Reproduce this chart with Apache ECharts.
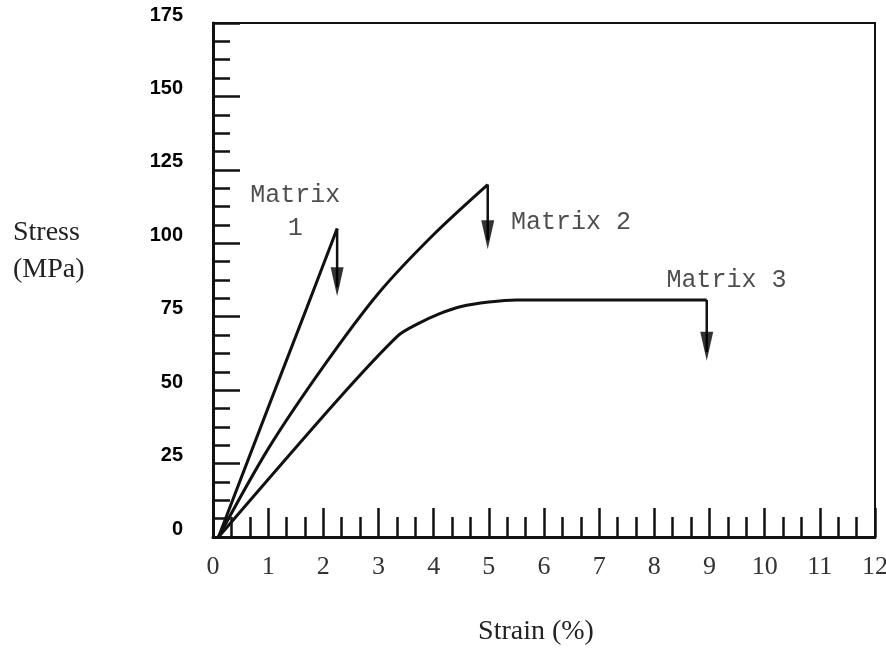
<!DOCTYPE html>
<html>
<head>
<meta charset="utf-8">
<script src="https://cdn.jsdelivr.net/npm/echarts@6/dist/echarts.min.js"></script>
<style>
  html, body { margin: 0; padding: 0; background: #fff; }
  #chart { width: 886px; height: 648px; }
</style>
</head>
<body>
<div id="chart"></div>
<script>
// stress-strain curves, strain in %, stress in MPa
const strain1 = [0.1, 1.04, 1.7, 2.25];
const stress1 = [0, 46, 78, 105];
const strain2 = [0.1, 1.0, 2.0, 3.0, 4.0, 4.98];
const stress2 = [0, 30, 58, 83, 103, 120];
const strain3 = [0.1, 2.25, 3.35, 3.7, 4.1, 4.5, 5.0, 5.5, 8.95];
const stress3 = [0, 46.5, 68.5, 72.5, 76, 78.5, 80, 80.7, 80.7];

// failure arrows (drop after break)
const failX = [2.25, 4.98, 8.95];
const failFrom = [105, 120, 80.7];
const failTo = [82, 98, 60];

// curve annotations
const labelNames = ['Matrix\n1', 'Matrix 2', 'Matrix 3'];
const labelX = [1.49, 6.49, 9.31];
const labelY = [110.8, 107, 87.5];

const pairs = (xs, ys) => xs.map((x, i) => [x, ys[i]]);
const ink = '#111';

const curve = (name, data) => ({
  name: name,
  type: 'line',
  data: data,
  showSymbol: false,
  symbol: 'none',
  smooth: 0.3,
  lineStyle: { color: ink, width: 3 },
  z: 3
});

const series = [
  curve('Matrix 1', pairs(strain1, stress1)),
  curve('Matrix 2', pairs(strain2, stress2)),
  curve('Matrix 3', pairs(strain3, stress3))
];

failX.forEach((x, i) => {
  series.push({
    type: 'line',
    data: [[x, failFrom[i]], [x, failTo[i] + 3]],
    symbol: 'none',
    lineStyle: { color: ink, width: 2.5 },
    z: 3
  });
});

series.push({
  type: 'scatter',
  data: pairs(failX, failTo),
  symbol: 'triangle',
  symbolRotate: 180,
  symbolSize: [13, 29],
  symbolOffset: [0, '-50%'],
  itemStyle: { color: '#000' },
  z: 4
});

series.push({
  type: 'scatter',
  data: labelNames.map((n, i) => ({ name: n, value: [labelX[i], labelY[i]] })),
  symbolSize: 1,
  itemStyle: { color: 'transparent' },
  label: {
    show: true,
    position: 'inside',
    formatter: '{b}',
    fontFamily: 'Liberation Mono',
    fontSize: 25,
    lineHeight: 33,
    color: '#222'
  },
  z: 5
});

const chart = echarts.init(document.getElementById('chart'));
chart.setOption({
  animation: false,
  backgroundColor: '#fff',
  grid: {
    left: 213, right: 11, top: 23, bottom: 111,
    show: true, borderColor: ink, borderWidth: 2,
    containLabel: false, outerBoundsMode: 'none'
  },
  xAxis: {
    type: 'value',
    min: 0, max: 12, interval: 1,
    name: 'Strain (%)',
    nameLocation: 'middle',
    nameGap: 81,
    nameTextStyle: {
      fontFamily: 'Liberation Serif', fontSize: 28, color: '#222',
      padding: [0, 16, 0, 0]
    },
    axisLine: { onZero: false, lineStyle: { color: ink, width: 3 } },
    axisTick: { inside: true, length: 29, lineStyle: { color: ink, width: 2.5 } },
    minorTick: { show: true, splitNumber: 3, length: 20, lineStyle: { color: ink, width: 2.5 } },
    axisLabel: { fontFamily: 'Liberation Serif', fontSize: 26, color: '#333', margin: 17 },
    splitLine: { show: false }
  },
  yAxis: {
    type: 'value',
    min: 0, max: 175, interval: 25,
    name: '{a|Stress}\n{a|(MPa)}\n{gap|}',
    nameLocation: 'middle',
    nameRotate: 0,
    nameGap: 200,
    nameTextStyle: {
      align: 'left',
      rich: {
        a: { fontFamily: 'Liberation Serif', fontSize: 28, lineHeight: 37, color: '#222' },
        gap: { fontSize: 10, lineHeight: 58 }
      }
    },
    axisLine: { onZero: false, lineStyle: { color: ink, width: 3 } },
    axisTick: { inside: true, length: 27, lineStyle: { color: ink, width: 2.5 } },
    minorTick: { show: true, splitNumber: 4, length: 17, lineStyle: { color: ink, width: 2.5 } },
    axisLabel: {
      fontFamily: 'Liberation Sans', fontWeight: 'bold', fontSize: 20, color: '#000',
      margin: 30, verticalAlign: 'bottom', lineHeight: 16
    },
    splitLine: { show: false }
  },
  series: series
});
</script>
</body>
</html>
